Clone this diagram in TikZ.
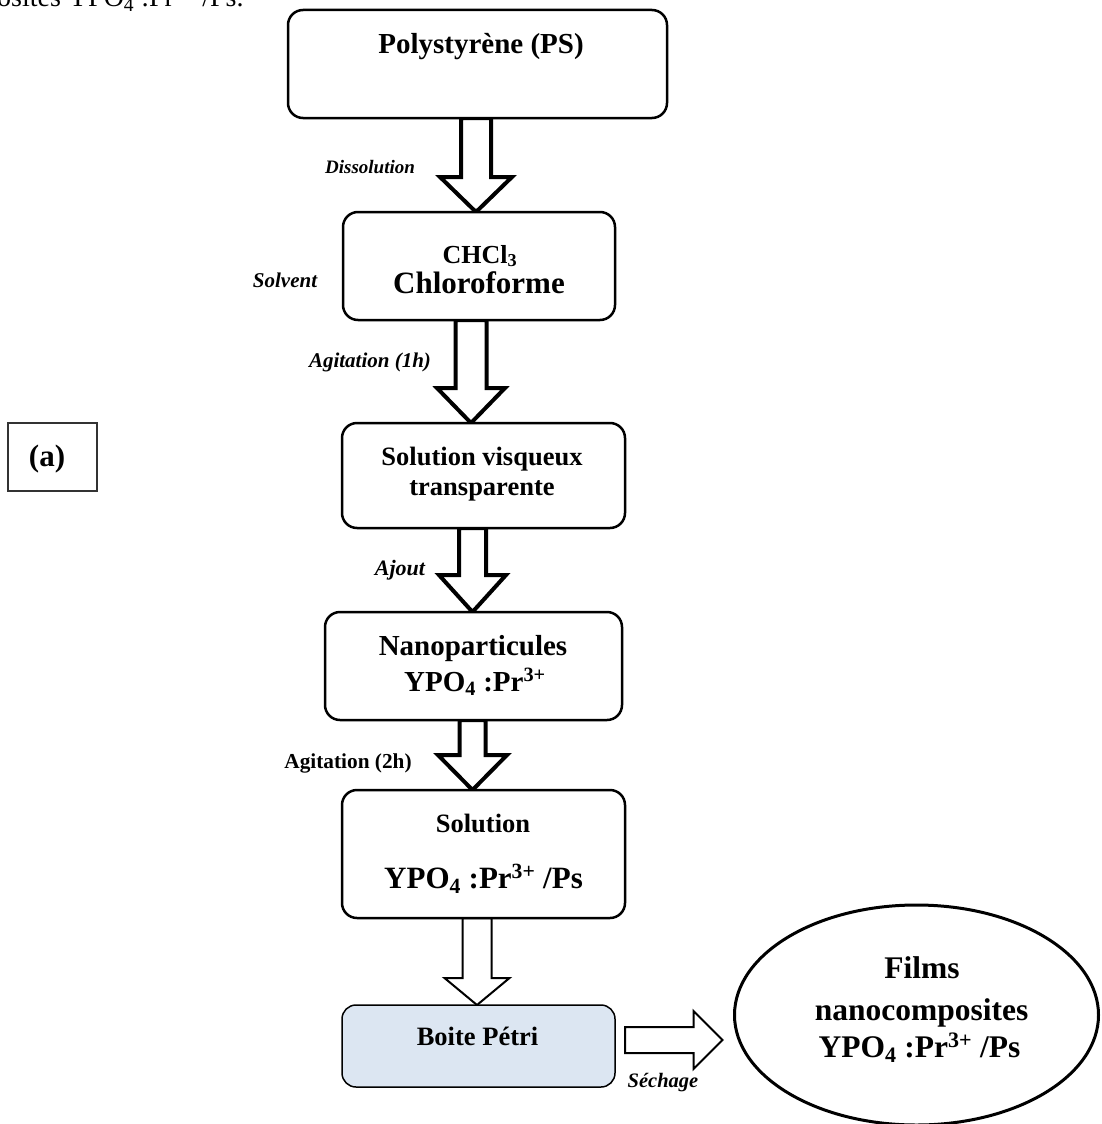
\documentclass[tikz,border=0pt]{standalone}
\usepackage{fontspec}
\setmainfont{Liberation Serif}
\usetikzlibrary{calc,shapes.geometric,backgrounds}
\definecolor{petri}{RGB}{220,230,242}
\begin{document}
\begin{tikzpicture}[x=1pt,y=-1pt,
  box/.style={draw, line width=2.5pt, rounded corners=15pt, fill=white, outer sep=0pt, inner sep=0pt},
  petribox/.style={draw, line width=1.5pt, rounded corners=14pt, fill=petri, outer sep=0pt, inner sep=0pt},
  labbox/.style={draw=black!80, line width=1.5pt, fill=white, outer sep=0pt, inner sep=0pt},
  oval/.style={draw, ellipse, line width=3pt, fill=white, outer sep=0pt, inner sep=0pt},
  fat/.style={draw, line width=4pt, fill=white, line join=miter, miter limit=10},
  thinfat/.style={draw, line width=2pt, fill=white, line join=miter, miter limit=10},
  txt/.style={inner sep=0pt, anchor=base, font=\bfseries},
  side/.style={inner sep=0pt, anchor=base, font=\bfseries\itshape\fontsize{21}{25}\selectfont}
]
\useasboundingbox (0,0) rectangle (1101,1124);
\clip (0,0) rectangle (1101,1124);

% truncated caption line at the top
\node[inner sep=0pt, anchor=base west, font=\fontsize{28}{32}\selectfont] (cap) at (-3,7)
  {osites YPO\textsubscript{4} :Pr\textsuperscript{3+} /Ps.};

% boxes
\node[box, minimum width=379pt, minimum height=108pt] (b1) at (477.5,64) {};
\node[box, minimum width=272pt, minimum height=108pt] (b2) at (479,266) {};
\node[box, minimum width=283pt, minimum height=105pt] (b3) at (483.5,475.5) {};
\node[box, minimum width=297pt, minimum height=108pt] (b4) at (473.5,666) {};
\node[box, minimum width=283pt, minimum height=128pt] (b5) at (483.5,854) {};
\node[petribox, minimum width=273pt, minimum height=82pt] (b6) at (478.5,1046) {};
\node[labbox, minimum width=89pt, minimum height=68pt] (ba) at (52.5,457) {};
\node[oval, minimum width=364pt, minimum height=220pt] (ell) at (916.5,1015) {};

% texts in boxes
\node[txt, font=\bfseries\fontsize{29}{34}\selectfont] (t1) at (481,53) {Polystyrène (PS)};
\node[txt, font=\bfseries\fontsize{26}{30}\selectfont] (t2a) at (480,263) {CHCl\textsubscript{3}};
\node[txt, font=\bfseries\fontsize{31}{36}\selectfont] (t2b) at (479,293) {Chloroforme};
\node[txt, font=\bfseries\fontsize{26.5}{31}\selectfont] (t3a) at (482,465) {Solution visqueux};
\node[txt, font=\bfseries\fontsize{26.5}{31}\selectfont] (t3b) at (482,495) {transparente};
\node[txt, font=\bfseries\fontsize{29}{34}\selectfont] (t4a) at (473,655) {Nanoparticules};
\node[txt, font=\bfseries\fontsize{29}{34}\selectfont] (t4b) at (475,691) {YPO\textsubscript{4} :Pr\textsuperscript{3+}};
\node[txt, font=\bfseries\fontsize{26.5}{31}\selectfont] (t5a) at (483,832) {Solution};
\node[txt, font=\bfseries\fontsize{31}{36}\selectfont] (t5b) at (483.5,888) {YPO\textsubscript{4} :Pr\textsuperscript{3+} /Ps};
\node[txt, font=\bfseries\fontsize{26.5}{31}\selectfont] (t6) at (477.5,1045) {Boite Pétri};
\node[txt, font=\bfseries\fontsize{31.5}{36}\selectfont] (t7a) at (922,978) {Films};
\node[txt, font=\bfseries\fontsize{31.5}{36}\selectfont] (t7b) at (921.5,1020) {nanocomposites};
\node[txt, font=\bfseries\fontsize{31.5}{36}\selectfont] (t7c) at (919.5,1057) {YPO\textsubscript{4} :Pr\textsuperscript{3+} /Ps};
\node[txt, font=\bfseries\fontsize{31}{36}\selectfont] (ta) at (47,466) {(a)};

% side labels
\node[side, font=\bfseries\itshape\fontsize{19}{23}\selectfont] (l1) at (370,173) {Dissolution};
\node[side] (l2) at (285,287) {Solvent};
\node[side] (l3) at (370,367) {Agitation (1h)};
\node[side, font=\bfseries\itshape\fontsize{22}{26}\selectfont] (l4) at (400,575) {Ajout};
\node[txt, font=\bfseries\fontsize{21.3}{25}\selectfont] (l5) at (348,768) {Agitation (2h)};
\node[side, font=\bfseries\itshape\fontsize{20.5}{24}\selectfont] (l6) at (663,1087) {Séchage};

% block arrows
\coordinate (x1) at (476,0);
\coordinate (x2) at (471,0);
\coordinate (x3) at (472.5,0);
\coordinate (x4) at (472.5,0);
\coordinate (x5) at (477,0);
\coordinate (y6) at (0,1040);
\begin{pgfonlayer}{background}
\draw[fat] let \p1=(b1.south -| x1), \p2=(b2.north -| x1) in
  (\x1-15,\y1) -- (\x1+15,\y1) -- (\x1+15,\y2+35) -- (\x1+36,\y2+35) -- (\x1,\y2)
  -- (\x1-36,\y2+35) -- (\x1-15,\y2+35) -- cycle;
\draw[fat] let \p1=(b2.south -| x2), \p2=(b3.north -| x2) in
  (\x1-15.5,\y1) -- (\x1+15.5,\y1) -- (\x1+15.5,\y2+35) -- (\x1+34,\y2+35) -- (\x1,\y2)
  -- (\x1-34,\y2+35) -- (\x1-15.5,\y2+35) -- cycle;
\draw[fat] let \p1=(b3.south -| x3), \p2=(b4.north -| x3) in
  (\x1-13.5,\y1) -- (\x1+13.5,\y1) -- (\x1+13.5,\y2+37) -- (\x1+33.5,\y2+37) -- (\x1,\y2)
  -- (\x1-33.5,\y2+37) -- (\x1-13.5,\y2+37) -- cycle;
\draw[fat] let \p1=(b4.south -| x4), \p2=(b5.north -| x4) in
  (\x1-13,\y1) -- (\x1+13,\y1) -- (\x1+13,\y2+35) -- (\x1+34.5,\y2+35) -- (\x1,\y2)
  -- (\x1-34.5,\y2+35) -- (\x1-13,\y2+35) -- cycle;
\draw[thinfat] let \p1=(b5.south -| x5), \p2=(b6.north -| x5) in
  (\x1-14.5,\y1) -- (\x1+14.5,\y1) -- (\x1+14.5,\y2+27) -- (\x1+32.5,\y2+27) -- (\x1,\y2)
  -- (\x1-32.5,\y2+27) -- (\x1-14.5,\y2+27) -- cycle;
\draw[thinfat] let \p1=($(b6.east |- y6)+(10,0)$), \p2=($(ell.west |- y6)+(-12,0)$) in
  (\x1,\y1-13) -- (\x2-29,\y1-13) -- (\x2-29,\y1-29) -- (\x2,\y1)
  -- (\x2-29,\y1+29) -- (\x2-29,\y1+13) -- (\x1,\y1+13) -- cycle;
\end{pgfonlayer}
\end{tikzpicture}
\end{document}
